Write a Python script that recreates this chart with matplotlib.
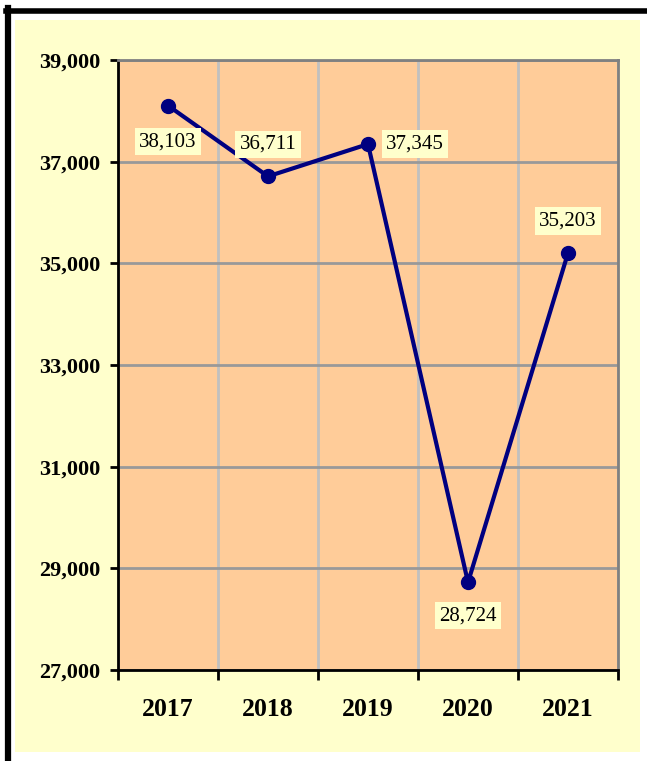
import matplotlib.pyplot as plt
from matplotlib.patches import Rectangle
from matplotlib.lines import Line2D

plt.rcParams["font.family"] = ["Liberation Serif", "DejaVu Serif"]
plt.rcParams["font.weight"] = "bold"

# data
years = ["2017", "2018", "2019", "2020", "2021"]
values = [38103, 36711, 37345, 28724, 35203]
y_ticks = [27000, 29000, 31000, 33000, 35000, 37000, 39000]
# where each data label sits relative to its point (offset in points)
label_offsets = [(0, -26), (0, 23), (34, 0), (0, -24), (0, 23)]

W, H = 647, 761
fig = plt.figure(figsize=(W / 100, H / 100), dpi=100, facecolor="white")

# light yellow chart area and the black frame around it
fig.patches.append(Rectangle((15 / W, 1 - 752 / H), 625 / W, 732 / H,
                             transform=fig.transFigure, facecolor="#FFFFCC",
                             edgecolor="none", zorder=-1))
fig.lines.append(Line2D([8 / W, 8 / W], [0, 1 - 8 / H], transform=fig.transFigure,
                        color="black", lw=4.5, zorder=-1))
fig.lines.append(Line2D([6 / W, 1], [1 - 10.5 / H, 1 - 10.5 / H], transform=fig.transFigure,
                        color="black", lw=4, zorder=-1))

ax = fig.add_axes([118 / W, 1 - 670 / H, 500 / W, 610 / H])
ax.set_zorder(2)
ax.set_facecolor("#FFCC99")
x = list(range(len(years)))
ax.plot(x, values, color="#000080", lw=3, marker="o", markersize=10, zorder=3,
        clip_on=False)

for xi, v, (dx, dy) in zip(x, values, label_offsets):
    ax.annotate(f"{v:,}", (xi, v), xytext=(dx, dy), textcoords="offset points",
                ha="center", va="center", fontsize=15, fontweight="normal",
                bbox=dict(boxstyle="square,pad=0.2", fc="#FFFFCC", ec="none"),
                zorder=4)

ax.set_xlim(-0.5, len(years) - 0.5)
ax.set_ylim(y_ticks[0], y_ticks[-1])
ax.set_yticks(y_ticks, [f"{t:,}" for t in y_ticks], fontsize=16, fontweight="bold")

# category boundaries carry the ticks and vertical grid
ax.set_xticks([i - 0.5 for i in range(len(years) + 1)], [""] * (len(years) + 1))
ax.set_xticks(x, years, minor=True, fontsize=18.5, fontweight="bold")
ax.tick_params(axis="x", which="minor", length=0, pad=20)
ax.tick_params(axis="x", which="major", length=7, width=2, direction="out")
ax.tick_params(axis="y", length=6, width=2, direction="out", pad=6.5)

ax.grid(axis="x", which="major", color="#C0C0C0", lw=2)
ax.grid(axis="y", which="major", color="#999999", lw=2)
ax.set_axisbelow(True)

for side in ["left", "bottom"]:
    ax.spines[side].set_color("black")
    ax.spines[side].set_linewidth(2)
for side in ["top", "right"]:
    ax.spines[side].set_color("#808080")
    ax.spines[side].set_linewidth(2)

fig.savefig("out.png", dpi=100, facecolor="white")
